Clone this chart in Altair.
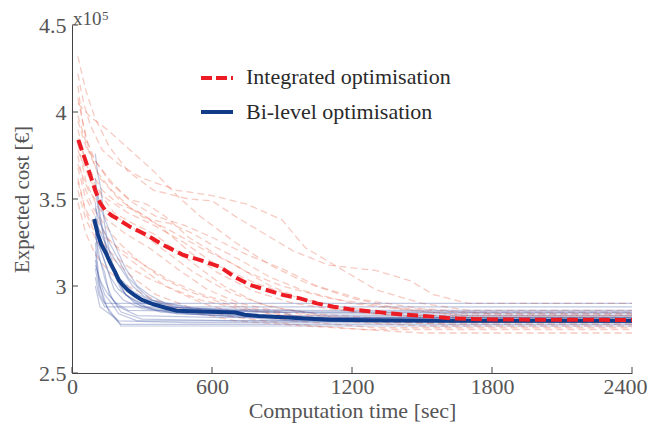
import altair as alt
import pandas as pd

# ---------------- data ----------------
x_tick_values = [0, 600, 1200, 1800, 2400]
y_tick_values = [2.5, 3.0, 3.5, 4.0, 4.5]

# individual runs, integrated optimisation (faint dashed red)
red_run_times = [
    [25, 60, 100, 160, 240, 350, 500, 600, 700, 800, 950, 1100, 1300, 1450, 1550, 1700, 2400],
    [25, 50, 80, 130, 200, 300, 450, 600, 750, 900, 1000, 1150, 1300, 1500, 1700, 2400],
    [25, 80, 150, 250, 350, 450, 550, 700, 850, 1000, 1200, 1400, 1600, 2400],
    [25, 70, 120, 200, 300, 420, 550, 700, 850, 1000, 1200, 1500, 2400],
    [25, 60, 110, 180, 260, 350, 500, 650, 800, 1000, 1300, 2400],
    [25, 60, 100, 150, 230, 330, 450, 580, 720, 900, 1200, 1600, 2400],
    [25, 50, 90, 140, 200, 280, 380, 500, 650, 850, 1100, 1500, 2400],
    [25, 55, 100, 150, 220, 300, 400, 550, 750, 1000, 1400, 2400],
    [25, 60, 100, 160, 230, 320, 430, 560, 720, 950, 1300, 2400],
    [25, 60, 110, 180, 260, 360, 500, 700, 950, 1250, 2400],
    [25, 60, 100, 160, 240, 340, 480, 700, 1000, 1500, 2400],
    [25, 45, 70, 110, 170, 250, 340, 420, 520, 620, 720, 850, 1000, 1200, 1450, 1700, 2400],
    [25, 60, 100, 160, 240, 320, 400, 500, 620, 750, 900, 1100, 1350, 1650, 2400],
    [25, 70, 130, 200, 280, 380, 500, 620, 780, 950, 1150, 1400, 2400],
    [25, 70, 130, 210, 300, 400, 520, 680, 850, 1050, 1350, 2400],
    [25, 60, 110, 180, 260, 360, 480, 600, 750, 900, 1050, 1250, 1500, 1800, 2400],
    [25, 55, 95, 150, 220, 310, 420, 560, 740, 950, 1300, 2400],
    [25, 80, 150, 240, 350, 480, 620, 780, 950, 1150, 1400, 1800, 2400],
]
red_run_values = [
    [4.32, 4.12, 3.96, 3.80, 3.66, 3.55, 3.50, 3.49, 3.40, 3.32, 3.20, 3.12, 3.09, 3.03, 2.95, 2.90, 2.90],
    [4.22, 4.05, 3.92, 3.78, 3.70, 3.62, 3.55, 3.52, 3.47, 3.38, 3.22, 3.10, 2.98, 2.90, 2.86, 2.86],
    [4.05, 3.97, 3.90, 3.78, 3.66, 3.52, 3.40, 3.25, 3.12, 3.02, 2.93, 2.87, 2.84, 2.84],
    [3.98, 3.78, 3.62, 3.50, 3.40, 3.32, 3.22, 3.12, 3.00, 2.92, 2.85, 2.82, 2.82],
    [3.90, 3.70, 3.55, 3.42, 3.36, 3.30, 3.15, 3.00, 2.90, 2.84, 2.80, 2.80],
    [3.82, 3.60, 3.48, 3.38, 3.30, 3.22, 3.10, 2.98, 2.90, 2.85, 2.81, 2.78, 2.78],
    [3.75, 3.58, 3.45, 3.35, 3.25, 3.15, 3.05, 2.97, 2.90, 2.84, 2.80, 2.77, 2.77],
    [3.68, 3.52, 3.40, 3.28, 3.18, 3.10, 3.00, 2.92, 2.86, 2.82, 2.79, 2.79],
    [3.60, 3.42, 3.30, 3.20, 3.12, 3.05, 2.98, 2.90, 2.84, 2.80, 2.76, 2.76],
    [3.55, 3.38, 3.25, 3.15, 3.05, 2.95, 2.88, 2.82, 2.78, 2.75, 2.75],
    [3.48, 3.30, 3.18, 3.08, 3.00, 2.93, 2.86, 2.80, 2.77, 2.73, 2.73],
    [4.15, 3.95, 3.80, 3.65, 3.55, 3.45, 3.38, 3.36, 3.30, 3.22, 3.15, 3.05, 2.97, 2.90, 2.86, 2.83, 2.83],
    [4.08, 3.85, 3.72, 3.60, 3.50, 3.47, 3.40, 3.28, 3.18, 3.08, 3.00, 2.93, 2.88, 2.85, 2.85],
    [3.85, 3.68, 3.55, 3.47, 3.43, 3.34, 3.20, 3.08, 2.97, 2.90, 2.86, 2.83, 2.83],
    [3.70, 3.55, 3.45, 3.38, 3.30, 3.20, 3.08, 2.96, 2.88, 2.84, 2.81, 2.81],
    [3.95, 3.80, 3.70, 3.58, 3.48, 3.40, 3.35, 3.28, 3.18, 3.10, 3.00, 2.92, 2.87, 2.84, 2.84],
    [3.62, 3.45, 3.35, 3.27, 3.20, 3.12, 3.03, 2.95, 2.88, 2.83, 2.79, 2.79],
    [3.78, 3.60, 3.50, 3.42, 3.35, 3.25, 3.12, 3.02, 2.94, 2.88, 2.84, 2.81, 2.81],
]

# individual runs, bi-level optimisation (faint solid blue)
blue_run_times = [
    [100, 110, 125, 140, 160, 190, 230, 300, 420, 700, 900, 2400],
    [100, 115, 135, 160, 200, 260, 330, 500, 2400],
    [100, 120, 140, 170, 210, 270, 380, 650, 900, 2400],
    [100, 115, 150, 190, 230, 300, 450, 700, 1100, 2400],
    [100, 120, 150, 180, 220, 300, 500, 950, 2400],
    [100, 110, 140, 160, 200, 280, 600, 2400],
    [100, 120, 145, 175, 210, 300, 720, 2400],
    [100, 115, 140, 170, 200, 280, 2400],
    [100, 115, 135, 160, 200, 500, 2400],
    [100, 120, 150, 210, 2400],
    [100, 120, 140, 2400],
    [100, 115, 140, 400, 600, 950, 1050, 2400],
    [100, 120, 170, 210, 2400],
    [100, 125, 160, 200, 240, 290, 340, 420, 560, 720, 760, 2400],
    [100, 130, 170, 220, 260, 310, 380, 480, 680, 2400],
    [100, 130, 160, 195, 230, 280, 330, 400, 520, 800, 2400],
    [100, 130, 165, 200, 250, 320, 450, 1000, 2400],
    [100, 125, 155, 190, 240, 900, 1000, 2400],
]
blue_run_values = [
    [3.76, 3.65, 3.55, 3.35, 3.20, 3.05, 2.95, 2.90, 2.88, 2.86, 2.85, 2.85],
    [3.62, 3.45, 3.30, 3.15, 3.05, 2.97, 2.92, 2.88, 2.88],
    [3.55, 3.38, 3.25, 3.10, 2.98, 2.90, 2.85, 2.83, 2.82, 2.82],
    [3.48, 3.30, 3.18, 3.05, 2.95, 2.88, 2.84, 2.83, 2.81, 2.81],
    [3.40, 3.22, 3.10, 2.98, 2.92, 2.87, 2.84, 2.80, 2.80],
    [3.35, 3.18, 3.08, 2.95, 2.88, 2.83, 2.82, 2.82],
    [3.30, 3.15, 3.02, 2.92, 2.85, 2.81, 2.80, 2.79],
    [3.25, 3.05, 2.95, 2.90, 2.84, 2.80, 2.80],
    [3.20, 3.02, 2.92, 2.85, 2.80, 2.79, 2.79],
    [3.15, 3.00, 2.88, 2.77, 2.77],
    [3.10, 2.95, 2.90, 2.90],
    [3.05, 2.95, 2.88, 2.88, 2.87, 2.86, 2.84, 2.84],
    [3.00, 2.88, 2.83, 2.78, 2.78],
    [3.45, 3.35, 3.25, 3.15, 3.05, 2.98, 2.92, 2.88, 2.86, 2.85, 2.83, 2.83],
    [3.38, 3.28, 3.18, 3.08, 3.00, 2.94, 2.90, 2.87, 2.86, 2.86],
    [3.58, 3.42, 3.32, 3.20, 3.10, 3.00, 2.95, 2.90, 2.87, 2.85, 2.85],
    [3.28, 3.18, 3.05, 2.98, 2.93, 2.88, 2.85, 2.82, 2.82],
    [3.12, 3.02, 2.95, 2.90, 2.86, 2.85, 2.81, 2.81],
]

# average curves
int_mean_t = [27, 45, 63, 80, 99, 120, 141, 170, 191, 249, 320, 391, 477, 549, 634, 700,
              763, 834, 906, 977, 1049, 1120, 1191, 1263, 1334, 1406, 1549, 1620, 1800, 2000, 2400]
int_mean_v = [3.84, 3.77, 3.70, 3.63, 3.552, 3.48, 3.437, 3.405, 3.389, 3.34, 3.293, 3.236,
              3.178, 3.149, 3.11, 3.05, 3.006, 2.977, 2.948, 2.929, 2.90, 2.881, 2.866, 2.856,
              2.847, 2.837, 2.824, 2.814, 2.808, 2.806, 2.805]
bi_mean_t = [95, 110, 125, 145, 165, 185, 200, 215, 240, 270, 300, 350, 400, 450, 550, 700,
             740, 800, 900, 1000, 1100, 1300, 1600, 2400]
bi_mean_v = [3.385, 3.30, 3.24, 3.19, 3.13, 3.08, 3.035, 3.01, 2.975, 2.945, 2.92, 2.895,
             2.875, 2.858, 2.853, 2.848, 2.835, 2.828, 2.82, 2.813, 2.806, 2.803, 2.801, 2.80]

legend_labels = ["Integrated optimisation", "Bi-level optimisation"]
exponent_base = "x10"
exponent_power = "5"

# ---------------- tables ----------------
def runs_frame(times, values):
    rows = []
    for i, (ts, vs) in enumerate(zip(times, values)):
        for t, v in zip(ts, vs):
            rows.append({"run": i, "t": t, "v": v})
    return pd.DataFrame(rows)

df_red = runs_frame(red_run_times, red_run_values)
df_blue = runs_frame(blue_run_times, blue_run_values)
df_int = pd.DataFrame({"t": int_mean_t, "v": int_mean_v})
df_bi = pd.DataFrame({"t": bi_mean_t, "v": bi_mean_v})
df_xt = pd.DataFrame({"t": x_tick_values})
df_yt = pd.DataFrame({"v": y_tick_values})

FONT = "Liberation Serif"
TXT = "#555555"
AX = "#444444"

xs = alt.Scale(domain=[0, 2400], nice=False, zero=False)
ys = alt.Scale(domain=[2.5, 4.5], nice=False, zero=False)

X = alt.X("t:Q", scale=xs, title="Computation time [sec]",
          axis=alt.Axis(values=x_tick_values, ticks=False, grid=False, labelPadding=3,
                        titlePadding=3, labelFlush=False, format="d",
                        labelOffset={"condition": {"test": "datum.value == 2400", "value": -7},
                                     "value": 0}))
Y = alt.Y("v:Q", scale=ys, title="Expected cost [€]",
          axis=alt.Axis(values=y_tick_values, ticks=False, grid=False, labelPadding=6,
                        titlePadding=6, titleFontSize=21, format="~g", labelFlush=False))

faint_red = alt.Chart(df_red).mark_line(
    color="#e86a50", opacity=0.35, strokeWidth=1.3, strokeDash=[7, 4]
).encode(x=X, y=Y, detail="run:N")

faint_blue = alt.Chart(df_blue).mark_line(
    color="#3f55a5", opacity=0.33, strokeWidth=1.2
).encode(x=X, y=Y, detail="run:N")

bi_line = alt.Chart(df_bi).mark_line(color="#113c8a", strokeWidth=4).encode(x=X, y=Y)
int_line = alt.Chart(df_int).mark_line(
    color="#ed1c24", strokeWidth=4, strokeDash=[11, 5]
).encode(x=X, y=Y)

x_ticks = alt.Chart(df_xt).mark_rule(color=AX, strokeWidth=1).encode(
    x=X, y=alt.value(348), y2=alt.value(342))
y_ticks = alt.Chart(df_yt).mark_rule(color=AX, strokeWidth=1).encode(
    y=Y, x=alt.value(0), x2=alt.value(6))

exp_base = alt.Chart(pd.DataFrame({"s": [exponent_base]})).mark_text(
    font=FONT, fontSize=19, color=TXT, align="left", baseline="alphabetic"
).encode(x=alt.value(1), y=alt.value(0), text="s:N")
exp_pow = alt.Chart(pd.DataFrame({"s": [exponent_power]})).mark_text(
    font=FONT, fontSize=13, color=TXT, align="left", baseline="alphabetic"
).encode(x=alt.value(30), y=alt.value(-5), text="s:N")

df_leg_int = pd.DataFrame({"s": [legend_labels[0]]})
df_leg_bi = pd.DataFrame({"s": [legend_labels[1]]})
leg_int_line = alt.Chart(df_leg_int).mark_rule(
    color="#ed1c24", strokeWidth=4, strokeDash=[11, 4]
).encode(x=alt.value(129), x2=alt.value(161), y=alt.value(53))
leg_bi_line = alt.Chart(df_leg_bi).mark_rule(color="#113c8a", strokeWidth=4).encode(
    x=alt.value(129), x2=alt.value(161), y=alt.value(87))
leg_int_txt = alt.Chart(df_leg_int).mark_text(
    font=FONT, fontSize=22, color="#2a2a2a", align="left", baseline="middle"
).encode(x=alt.value(174), y=alt.value(52), text="s:N")
leg_bi_txt = alt.Chart(df_leg_bi).mark_text(
    font=FONT, fontSize=22, color="#2a2a2a", align="left", baseline="middle"
).encode(x=alt.value(174), y=alt.value(87), text="s:N")

chart = alt.layer(
    faint_red, faint_blue, bi_line, int_line, x_ticks, y_ticks,
    exp_base, exp_pow, leg_int_line, leg_bi_line, leg_int_txt, leg_bi_txt
).properties(
    width=560, height=348,
    autosize=alt.AutoSizeParams(type="none"),
    padding={"left": 64, "top": 17, "right": 16, "bottom": 52},
).configure_view(stroke=None).configure_axis(
    domainColor=AX, domainWidth=1,
    labelFont=FONT, labelFontSize=22, labelColor=TXT,
    titleFont=FONT, titleFontSize=22, titleColor=TXT, titleFontWeight="normal",
)

chart.save("out.html", embed_options={"renderer": "svg", "actions": False})
